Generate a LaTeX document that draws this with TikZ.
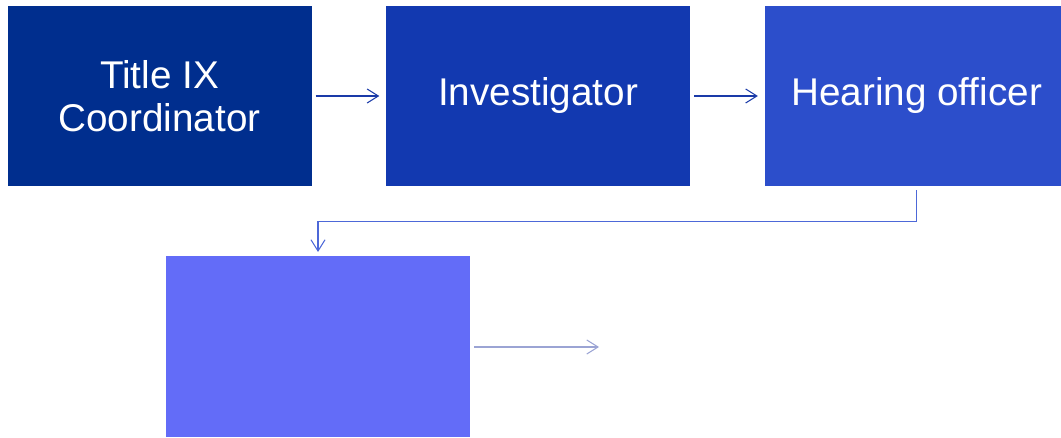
\documentclass[tikz,border=0pt]{standalone}
\usepackage{fontspec}
\setmainfont{Liberation Sans}
\usetikzlibrary{arrows.meta, positioning}

\definecolor{navyA}{HTML}{002E8E}
\definecolor{navyB}{HTML}{1239B0}
\definecolor{navyC}{HTML}{2C4ECB}
\definecolor{navyD}{HTML}{636CF8}
\definecolor{lineA}{HTML}{1A3AA8}
\definecolor{lineC}{HTML}{4D68D8}
\definecolor{lineD}{HTML}{9BA4D4}

\begin{document}
\begin{tikzpicture}[
    node distance = 1.75cm and 1.85cm,
    stage/.style  = {rectangle, draw=none, fill=#1, minimum width=7.6cm,
                     minimum height=4.5cm, inner sep=0pt, align=center,
                     text=white, font=\fontsize{27.5}{30.5}\selectfont},
    flow/.style   = {-{Straight Barb[length=8pt, width=10pt]}, line width=0.75pt,
                     draw=#1, shorten <=2.8pt, shorten >=4.6pt},
]
\useasboundingbox (0,0) rectangle (26.525,-10.95);

%% Top row
\node[stage=navyA] (coord) at (3.9875,-2.4) {Title IX\\ Coordinator};
\node[stage=navyB, right=of coord] (invest) {Investigator};
\node[stage=navyC, right=of invest] (hearing) {Hearing officer};

%% Lower box
\node[stage=navyD] (appeal) at (7.95,-8.6625) {};
\coordinate (loose) at (14.975,-8.675);

%% Arrows
\draw[flow=lineA] (coord)  -- (invest);
\draw[flow=lineA] (invest) -- (hearing);
\draw[flow=lineC, shorten >=3pt] (hearing.south) -- ++(0,-0.875) -| (appeal.north);
\draw[flow=lineD, shorten >=0pt] (appeal.east |- loose) -- (loose);

\end{tikzpicture}
\end{document}
